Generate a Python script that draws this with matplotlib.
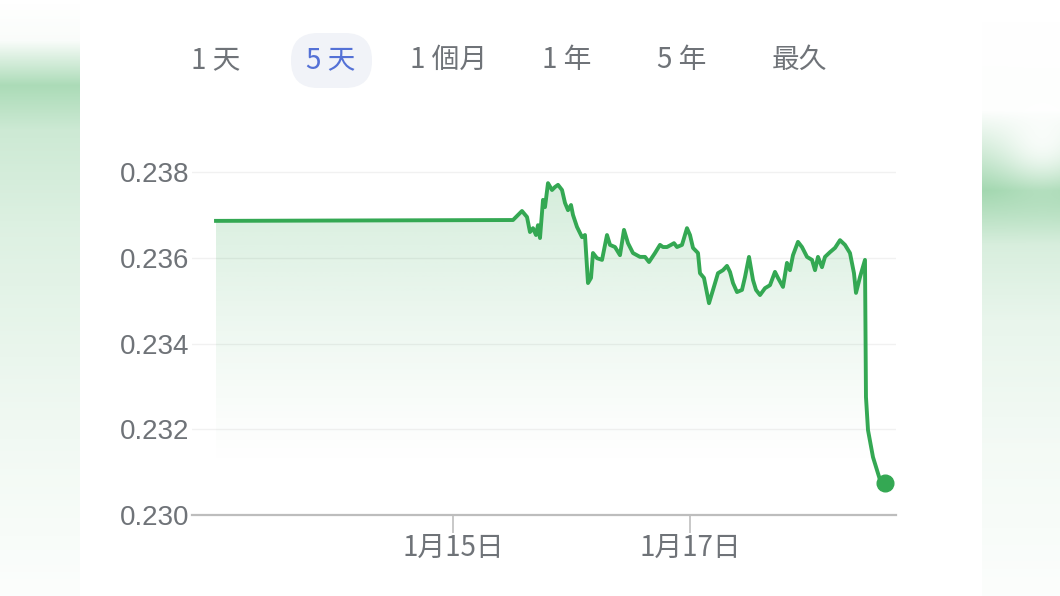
#!/usr/bin/env python3

"""
5-day price chart (Google finance style card)
"""

import numpy as np
import matplotlib
matplotlib.use("Agg")
import matplotlib.pyplot as plt
from matplotlib.patches import FancyBboxPatch

# hours since 1/13 00:00
HOURS = [0.0, 60.15, 61.97, 62.99, 63.59, 64.20, 64.81, 65.21, 65.62, 66.23,
         66.63, 67.24, 68.05, 68.66, 69.27, 70.08, 70.68, 71.29, 71.90, 72.30,
         73.11, 74.13, 74.73, 75.34, 75.95, 76.35, 77.16, 78.18, 79.19, 79.80,
         80.81, 81.82, 82.63, 83.44, 84.45, 85.87, 86.89, 87.70, 88.91, 89.92,
         90.53, 91.34, 92.15, 92.76, 93.37, 94.38, 95.39, 96.00, 96.61, 97.62,
         98.02, 98.83, 99.85, 100.66, 101.67, 102.68, 103.49, 104.10, 104.71, 105.52,
         106.53, 107.14, 107.95, 108.76, 109.37, 110.18, 111.19, 112.20, 113.21, 113.82,
         114.83, 115.64, 116.25, 116.86, 117.87, 118.68, 119.70, 120.71, 121.32, 121.92,
         122.73, 123.34, 124.35, 125.37, 126.38, 127.39, 128.40, 129.21, 129.62, 130.43,
         131.44, 131.64, 132.05, 133.06, 134.48, 135.49]

PRICES = [0.23686, 0.23688, 0.23709, 0.23695, 0.23660, 0.23669, 0.23653, 0.23676, 0.23646, 0.23735,
          0.23718, 0.23774, 0.23758, 0.23765, 0.23770, 0.23758, 0.23728, 0.23711, 0.23723, 0.23700,
          0.23672, 0.23648, 0.23653, 0.23541, 0.23553, 0.23611, 0.23599, 0.23595, 0.23653, 0.23630,
          0.23625, 0.23606, 0.23665, 0.23634, 0.23611, 0.23602, 0.23602, 0.23590, 0.23611, 0.23630,
          0.23625, 0.23625, 0.23630, 0.23634, 0.23625, 0.23630, 0.23669, 0.23653, 0.23623, 0.23611,
          0.23564, 0.23553, 0.23494, 0.23525, 0.23564, 0.23571, 0.23581, 0.23567, 0.23541, 0.23520,
          0.23525, 0.23555, 0.23602, 0.23548, 0.23525, 0.23513, 0.23529, 0.23536, 0.23567, 0.23553,
          0.23532, 0.23588, 0.23571, 0.23606, 0.23637, 0.23625, 0.23602, 0.23595, 0.23571, 0.23602,
          0.23578, 0.23602, 0.23613, 0.23623, 0.23641, 0.23630, 0.23611, 0.23564, 0.23518, 0.23555,
          0.23595, 0.23275, 0.23198, 0.23135, 0.23082, 0.23075]

Y_TICKS = [0.230, 0.232, 0.234, 0.236, 0.238]
X_TICKS = [48, 96]
X_LABELS = ["1月15日", "1月17日"]
RANGE_TABS = ["1 天", "5 天", "1 個月", "1 年", "5 年", "最久"]
ACTIVE_TAB = 1

GREEN = "#34a853"
GRAY = "#6f7378"

W, H = 1060, 596

plt.rcParams['font.family'] = ['Noto Sans CJK TC', 'DejaVu Sans']


def side_strip(profile_y, profile_a, width, blob=None):
    ys = np.arange(H)
    alpha = np.interp(ys, profile_y, profile_a)
    a2 = np.repeat(alpha[:, None], width, axis=1)
    if blob is not None:
        bx, by, br = blob
        xx, yy = np.meshgrid(np.arange(width), ys)
        d2 = (xx - bx) ** 2 + (yy - by) ** 2
        a2 = a2 * (1 - 0.8 * np.exp(-d2 / (2 * br ** 2)))
    img = np.zeros((H, width, 4))
    img[..., :3] = matplotlib.colors.to_rgb("#8fcf9f")
    img[..., 3] = a2
    return img


fig = plt.figure(figsize=(W / 100, H / 100), dpi=100)

# background: white card plus blurred green strips at the sides
bg = fig.add_axes([0, 0, 1, 1])
bg.set_xlim(0, W)
bg.set_ylim(H, 0)
bg.axis('off')
bg.imshow(side_strip([0, 40, 85, 130, 230, 400, 540, 596],
                     [0, 0.05, 0.75, 0.45, 0.3, 0.15, 0.06, 0.03], 80),
          extent=[0, 80, H, 0], aspect='auto', interpolation='bilinear')
bg.imshow(side_strip([0, 110, 190, 245, 320, 450, 596],
                     [0, 0.02, 0.85, 0.35, 0.2, 0.1, 0.03], 78, blob=(60, 140, 30)),
          extent=[982, W, H, 0], aspect='auto', interpolation='bilinear')
bg.set_xlim(0, W)
bg.set_ylim(H, 0)

# range selector tabs
tab_x = [216, 331, 449, 567, 682, 800]
pill = FancyBboxPatch((291, 33), 81, 55, boxstyle="round,pad=0,rounding_size=27",
                      facecolor="#f1f3f8", edgecolor="none")
bg.add_patch(pill)
for i, (tx, label) in enumerate(zip(tab_x, RANGE_TABS)):
    bg.text(tx, 60, label, ha='center', va='center', fontsize=20,
            color="#5471d6" if i == ACTIVE_TAB else GRAY)

# price chart
ax = fig.add_axes([192 / W, 1 - 515 / H, (896 - 192) / W, (515 - 150) / H])
ax.patch.set_alpha(0)
x_per_px = 24 / 118.5
ax.set_xlim(-24 * x_per_px, 680 * x_per_px)
ax.set_ylim(0.230, 0.230 + 365 * 0.002 / 85.75)

# gradient fill under the line
area = ax.fill_between(HOURS, PRICES, 0.230, facecolor='none', edgecolor='none')
grad = np.zeros((256, 1, 4))
grad[..., :3] = matplotlib.colors.to_rgb(GREEN)
grad[:, 0, 3] = np.linspace(0, 0.3, 256) ** 1.3
img = ax.imshow(grad, extent=[HOURS[0], HOURS[-1], 0.2310, max(PRICES)],
                origin='lower', aspect='auto', interpolation='bilinear', zorder=1)
img.set_clip_path(area.get_paths()[0], transform=ax.transData)

ax.plot(HOURS, PRICES, color=GREEN, lw=2.8, solid_joinstyle='round', zorder=3)
ax.plot(HOURS[-1], PRICES[-1], 'o', color=GREEN, ms=12, zorder=4)

ax.set_yticks(Y_TICKS)
ax.set_yticklabels([f"{v:.3f}" for v in Y_TICKS], family='Liberation Sans')
ax.set_xticks(X_TICKS)
ax.set_xticklabels(X_LABELS)
ax.tick_params(axis='y', length=0, pad=2, labelsize=20, labelcolor=GRAY)
ax.tick_params(axis='x', length=13, width=1.3, color="#c4c4c4", pad=0,
               labelsize=20, labelcolor=GRAY)
ax.grid(axis='y', color="#f1f1f1", lw=1)
ax.set_axisbelow(True)
for side in ['top', 'right', 'left']:
    ax.spines[side].set_visible(False)
ax.spines['bottom'].set_color("#bdbdbd")
ax.spines['bottom'].set_linewidth(1.6)
ax.spines['bottom'].set_zorder(5)

fig.savefig("out.png", dpi=100)
